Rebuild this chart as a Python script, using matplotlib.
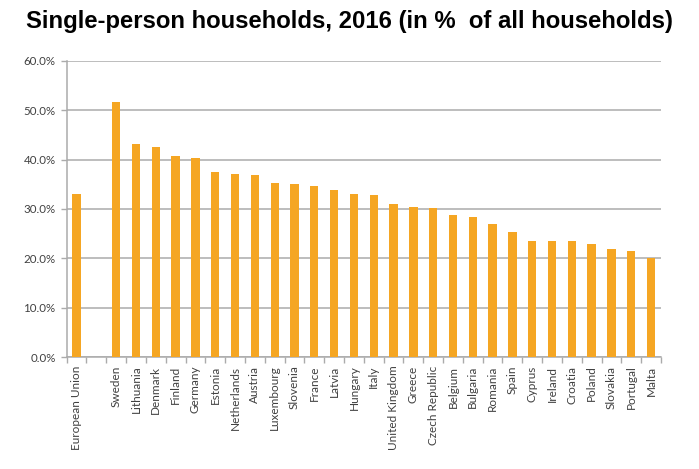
import matplotlib.pyplot as plt
import numpy as np
from matplotlib.ticker import FuncFormatter, FixedLocator

# ==============================
# Data
# ==============================
countries = ["European Union", "", "Sweden", "Lithuania", "Denmark", "Finland",
             "Germany", "Estonia", "Netherlands", "Austria", "Luxembourg",
             "Slovenia", "France", "Latvia", "Hungary", "Italy",
             "United Kingdom", "Greece", "Czech Republic", "Belgium", "Bulgaria",
             "Romania", "Spain", "Cyprus", "Ireland", "Croatia", "Poland",
             "Slovakia", "Portugal", "Malta"]
shares = [33.0, np.nan, 51.7, 43.1, 42.5, 40.8, 40.4, 37.4, 37.1, 36.9, 35.3,
          35.0, 34.6, 33.8, 33.0, 32.8, 31.1, 30.5, 30.3, 28.8, 28.4, 27.0,
          25.4, 23.5, 23.5, 23.5, 22.9, 21.9, 21.6, 20.0]
y_ticks = [0, 10, 20, 30, 40, 50, 60]

BAR_COLOR  = '#F5A623'
GRID_COLOR = '#ABABAB'
TEXT_COLOR = '#404040'

# ==============================
# Figure
# ==============================
fig = plt.figure(figsize=(6.99, 4.69), dpi=100)
ax = fig.add_axes([0.0954, 0.2382, 0.8502, 0.6324])

x = np.arange(len(countries))
ax.bar(x, shares, width=0.42, color=BAR_COLOR, zorder=3)

ax.set_xlim(-0.5, len(countries) - 0.5)
ax.set_ylim(0, 60)
ax.set_yticks(y_ticks)
ax.yaxis.set_major_formatter(FuncFormatter(lambda v, _: f"{v:.1f}%"))
ax.grid(axis='y', color=GRID_COLOR, lw=1.1, zorder=0)

ax.set_xticks(x)
ax.set_xticklabels(countries, rotation=90, fontsize=8.5, color=TEXT_COLOR,
                   family='Lato')
ax.xaxis.set_minor_locator(FixedLocator(np.arange(-0.5, len(countries), 1.0)))
ax.tick_params(axis='x', which='major', length=0, pad=6)
ax.tick_params(axis='x', which='minor', length=4, color=GRID_COLOR, width=1)
ax.tick_params(axis='y', length=4, color=GRID_COLOR, width=1,
               labelsize=8.3, labelcolor=TEXT_COLOR, pad=4)
for lbl in ax.get_yticklabels():
    lbl.set_family('Lato')

for side in ['top', 'right']:
    ax.spines[side].set_visible(False)
for side in ['left', 'bottom']:
    ax.spines[side].set_color(GRID_COLOR)
    ax.spines[side].set_linewidth(1.1)

fig.text(0.5, 0.955, "Single-person households, 2016 (in %  of all households)",
         ha='center', va='center', fontsize=17.2, fontweight='bold',
         family='Liberation Sans', color='black')

fig.savefig('out.png', dpi=100)
plt.close()
